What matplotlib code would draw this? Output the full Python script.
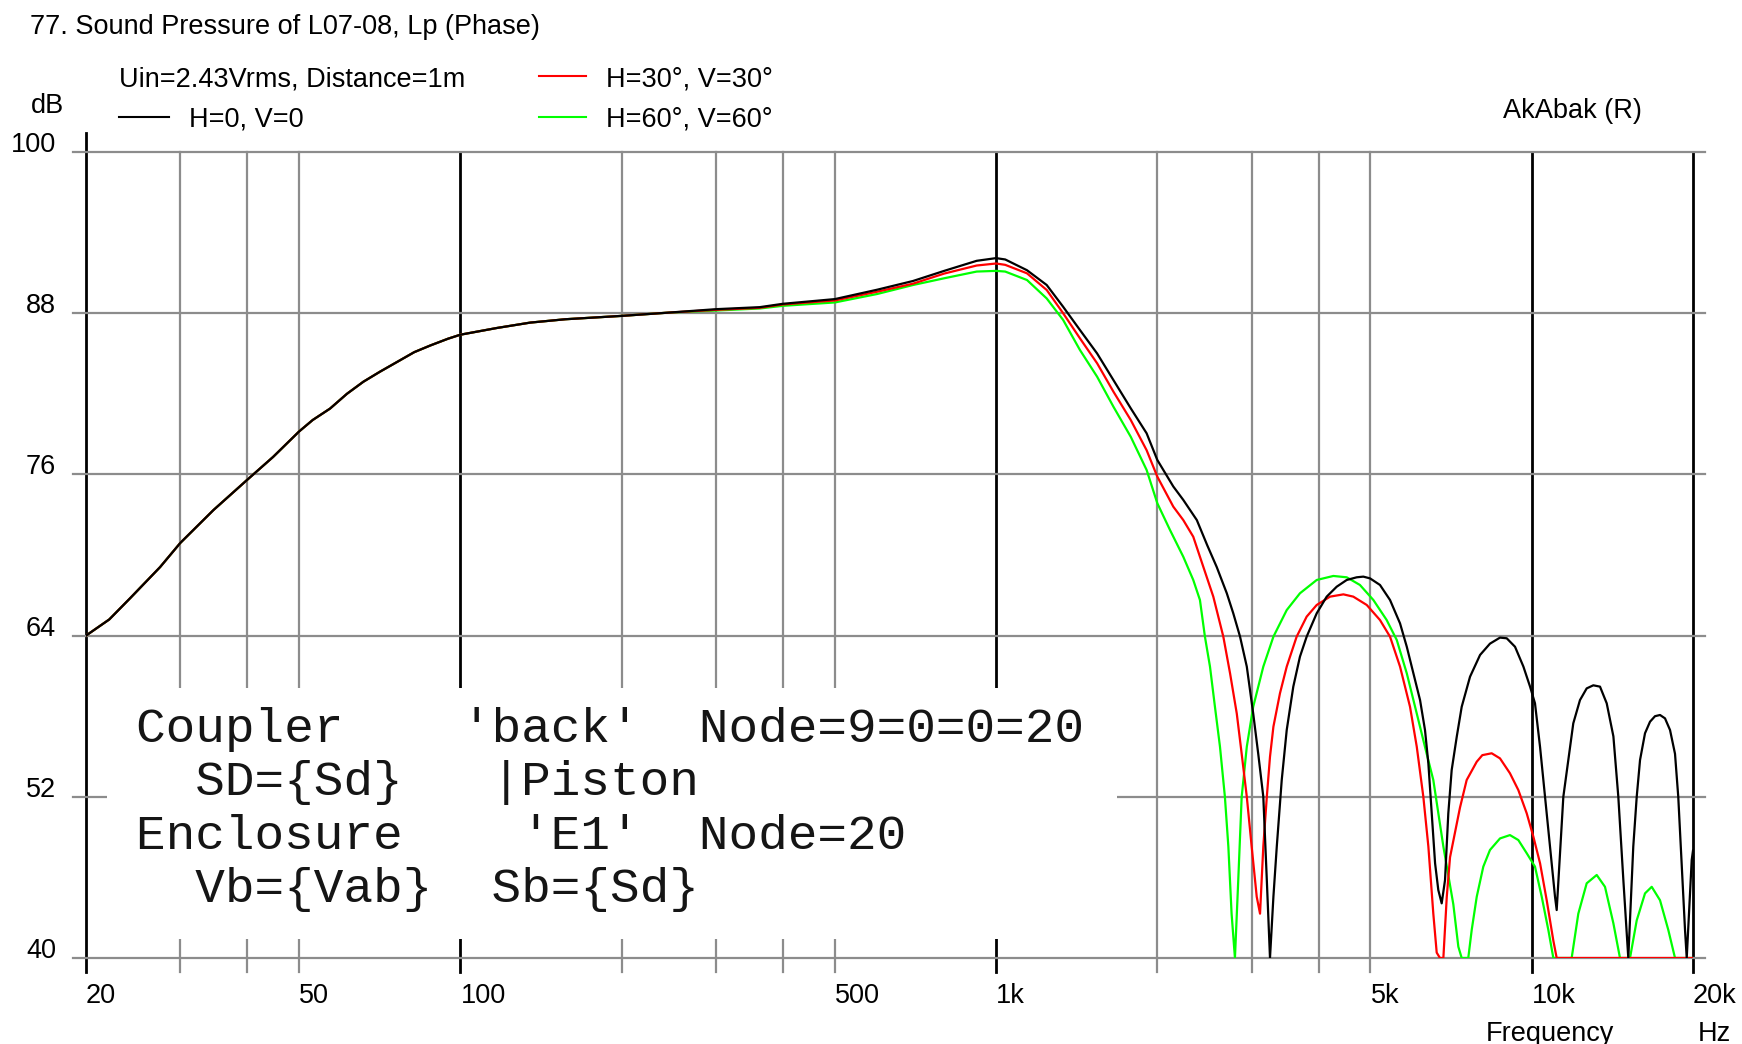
import matplotlib
matplotlib.use("Agg")
import matplotlib.pyplot as plt
from matplotlib.lines import Line2D
from matplotlib.patches import Rectangle

# ---------------- data ----------------
# low-frequency part, identical for all three directions
low_freq = [20, 22.1, 24.2, 27.5, 30, 34.6, 40, 44.7, 50, 53, 57.1, 61.4, 65.9, 70.8, 76.4, 82,
            87.9, 94.8, 100, 117, 135, 157, 200, 246]
low_spl = [64.0, 65.2, 66.8, 69.1, 70.9, 73.35, 75.6, 77.3, 79.2, 80.05, 80.9, 82.0, 82.9, 83.65,
           84.4, 85.1, 85.6, 86.1, 86.4, 86.9, 87.3, 87.55, 87.8, 88.05]

# (frequency Hz, dB) above 250 Hz
h0_points = [(300, 88.3), (362, 88.45), (400, 88.7), (500, 89.05), (600, 89.75), (700, 90.4),
             (800, 91.15), (920, 91.9), (1000, 92.1), (1040, 92.0), (1142, 91.2), (1243, 90.1),
             (1334, 88.48), (1434, 86.75), (1544, 85.0), (1656, 83.03), (1784, 80.92),
             (1910, 79.06), (2000, 77.07), (2142, 75.1), (2236, 74.1), (2370, 72.6), (2480, 70.7),
             (2582, 69.1), (2696, 67.15), (2772, 65.66), (2854, 63.92), (2938, 61.69), (3020, 58.2),
             (3086, 55.2), (3154, 52.0), (3202, 45.8), (3246, 40.0), (3294, 44.56), (3342, 48.29),
             (3414, 53.25), (3488, 56.97), (3588, 60.2), (3692, 62.43), (3800, 63.92), (3968, 65.66),
             (4142, 66.9), (4324, 67.64), (4514, 68.14), (4712, 68.34), (4848, 68.39), (4990, 68.26),
             (5208, 67.77), (5438, 66.65), (5677, 64.91), (5844, 63.17), (6012, 61.19), (6187, 59.2),
             (6320, 56.97), (6412, 54.49), (6506, 50.77), (6600, 47.05), (6692, 45.06), (6790, 44.07),
             (6888, 45.8), (6986, 50.77), (7088, 53.99), (7244, 56.47), (7400, 58.7), (7670, 60.94),
             (8008, 62.56), (8356, 63.4), (8724, 63.85), (8980, 63.8), (9306, 63.17), (9646, 61.7),
             (9928, 60.2), (10140, 58.96), (10364, 55.7), (10588, 52.0), (10816, 48.3),
             (11052, 44.56), (11132, 43.57), (11292, 47.8), (11454, 52.0), (11955, 57.47),
             (12304, 59.2), (12664, 60.07), (13030, 60.3), (13410, 60.2), (13802, 58.96),
             (14204, 56.5), (14508, 52.0), (14826, 45.8), (15144, 40.0), (15472, 48.3),
             (15702, 52.0), (15928, 54.74), (16272, 56.73), (16626, 57.59), (16986, 58.0),
             (17356, 58.09), (17732, 57.84), (18120, 56.97), (18512, 55.2), (18772, 52.0),
             (19048, 47.05), (19326, 42.08), (19468, 40.0), (19658, 43.3), (19890, 47.3),
             (20000, 48.0)]

h30_points = [(300, 88.25), (362, 88.4), (400, 88.65), (500, 88.95), (600, 89.6), (700, 90.2),
              (800, 90.95), (920, 91.55), (1000, 91.7), (1040, 91.6), (1142, 90.97), (1243, 89.73),
              (1334, 88.0), (1434, 86.13), (1544, 84.27), (1656, 82.16), (1784, 80.05), (1910, 77.8),
              (2000, 75.83), (2142, 73.6), (2236, 72.6), (2334, 71.36), (2402, 69.87), (2544, 66.9),
              (2656, 63.92), (2734, 61.19), (2814, 58.2), (2874, 55.2), (2938, 52.0), (3000, 48.3),
              (3066, 44.56), (3110, 43.3), (3154, 48.3), (3202, 52.0), (3246, 54.98), (3294, 57.22),
              (3388, 59.7), (3488, 61.69), (3640, 63.92), (3800, 65.41), (3968, 66.28), (4202, 66.9),
              (4450, 67.07), (4644, 66.9), (4920, 66.28), (5208, 65.16), (5438, 63.92), (5677, 61.69),
              (5926, 58.7), (6100, 55.73), (6275, 52.0), (6412, 48.3), (6550, 43.3), (6646, 40.4),
              (6740, 40.0), (6839, 40.0), (6940, 44.56), (7038, 47.5), (7346, 51.2), (7560, 53.25),
              (7894, 54.61), (8086, 55.1), (8418, 55.24), (8724, 54.86), (9106, 53.75), (9440, 52.5),
              (9786, 50.77), (10070, 49.03), (10364, 47.05), (10664, 44.3), (10972, 41.3),
              (11132, 40.0), (20000, 40.0)]

h60_points = [(300, 88.2), (362, 88.35), (400, 88.55), (500, 88.8), (600, 89.43), (700, 90.1),
              (800, 90.6), (920, 91.1), (1000, 91.15), (1040, 91.1), (1142, 90.47), (1243, 89.1),
              (1334, 87.5), (1434, 85.26), (1544, 83.27), (1656, 81.04), (1784, 78.8), (1910, 76.33),
              (2000, 73.85), (2112, 71.86), (2236, 69.87), (2334, 68.14), (2402, 66.65), (2454, 63.92),
              (2508, 61.69), (2562, 58.7), (2618, 55.73), (2674, 52.0), (2714, 48.3), (2752, 43.3),
              (2792, 40.0), (2832, 45.8), (2874, 52.0), (2938, 55.73), (3020, 58.7), (3154, 61.69),
              (3294, 63.92), (3488, 65.9), (3692, 67.15), (3968, 68.14), (4262, 68.44), (4514, 68.34),
              (4778, 67.77), (5062, 66.65), (5360, 65.16), (5598, 63.67), (5844, 61.19), (6100, 58.2),
              (6366, 55.2), (6550, 53.25), (6839, 48.3), (7138, 44.0), (7294, 40.84), (7400, 40.0),
              (7612, 40.0), (7726, 42.1), (7894, 44.56), (8120, 46.8), (8356, 48.04), (8724, 48.9),
              (9106, 49.15), (9440, 48.78), (9786, 47.8), (10140, 46.8), (10438, 44.56),
              (10740, 42.08), (10972, 40.0), (11872, 40.0), (12216, 43.3), (12664, 45.56),
              (13222, 46.18), (13700, 45.3), (14204, 42.58), (14612, 40.0), (15256, 40.0),
              (15702, 42.8), (16272, 44.81), (16748, 45.3), (17356, 44.3), (17988, 42.08),
              (18512, 40.0), (20000, 40.0)]

series_labels = ["H=0, V=0", "H=30°, V=30°", "H=60°, V=60°"]
series_colors = ["#000000", "#ff0000", "#00ff00"]
y_ticks = [40, 52, 64, 76, 88, 100]
x_ticks = [20, 50, 100, 500, 1000, 5000, 10000, 20000]
x_tick_labels = ["20", "50", "100", "500", "1k", "5k", "10k", "20k"]
grid_freqs = [20, 30, 40, 50, 100, 200, 300, 400, 500, 1000, 2000, 3000, 4000, 5000, 10000, 20000]
major_freqs = [20, 100, 1000, 10000, 20000]
box_lines = ["Coupler    'back'  Node=9=0=0=20",
             "  SD={Sd}   |Piston",
             "Enclosure    'E1'  Node=20",
             "  Vb={Vab}  Sb={Sd}"]


def build(points):
    fr = list(low_freq) + [p[0] for p in points]
    sp = list(low_spl) + [p[1] for p in points]
    return fr, sp


series = [build(h0_points), build(h30_points), build(h60_points)]

# ---------------- figure ----------------
W, H, DPI = 1742, 1044, 100
fig = plt.figure(figsize=(W / DPI, H / DPI), dpi=DPI)
fig.patch.set_facecolor("white")


def fx(x):
    return x / W


def fy(y):
    return 1 - y / H


AX_L, AX_R, AX_T, AX_B = 86, 1693, 152, 958
ax = fig.add_axes([fx(AX_L), fy(AX_B), (AX_R - AX_L) / W, (AX_B - AX_T) / H])
ax.set_xscale("log")
ax.set_xlim(20, 20000)
ax.set_ylim(40, 100)
for s in ax.spines.values():
    s.set_visible(False)
ax.minorticks_off()

GREY = "#8c8c8c"
axw, axh = AX_R - AX_L, AX_B - AX_T
for f in grid_freqs:
    major = f in major_freqs
    top = 1 + 19 / axh if f == 20 else 1.0
    ax.axvline(f, ymin=-14 / axh, ymax=top, color="black" if major else GREY,
               lw=2.0 if major else 1.6, clip_on=False, zorder=1)
for v in y_ticks:
    ax.axhline(v, xmin=-13 / axw, xmax=1 + 12 / axw, color=GREY, lw=1.6,
               clip_on=False, zorder=1)

# white box behind the netlist text
ax.add_patch(Rectangle(((107 - AX_L) / axw, (AX_B - 939) / axh),
                       (1117 - 107) / axw, (939 - 688) / axh,
                       transform=ax.transAxes, facecolor="white", edgecolor="none",
                       zorder=2))

zs = [5, 4, 3]
for (fr, sp), c, z in zip(series, series_colors, zs):
    ax.plot(fr, sp, color=c, lw=1.6, zorder=z)

UI = "Liberation Sans"
FS = 19.5
ax.set_xticks(x_ticks, x_tick_labels)
ax.set_yticks(y_ticks, [str(v) for v in y_ticks])
ax.tick_params(axis="x", length=0, pad=18, labelsize=FS)
ax.tick_params(axis="y", length=0, pad=21.5, labelsize=FS)
for lab in ax.get_xticklabels():
    lab.set_horizontalalignment("left")
    lab.set_fontfamily(UI)
for lab in ax.get_yticklabels():
    lab.set_verticalalignment("baseline")
    lab.set_fontfamily(UI)


def ftext(x, y, s, **kw):
    kw.setdefault("fontfamily", UI)
    kw.setdefault("fontsize", FS)
    kw.setdefault("va", "baseline")
    kw.setdefault("ha", "left")
    fig.text(fx(x), fy(y), s, color=kw.pop("color", "black"), **kw)


ftext(30, 34, "77. Sound Pressure of L07-08, Lp (Phase)")
ftext(119, 86, "Uin=2.43Vrms, Distance=1m")
ftext(31, 113, "dB")
ftext(1503, 118, "AkAbak (R)")
ftext(1486, 1041, "Frequency")
ftext(1698, 1041, "Hz")

# legend keys
leg_pos = [(119, 169, 117, 189, 127), (539, 586, 75.5, 606, 86), (539, 586, 117, 606, 127)]
for (x0, x1, ly, tx, tb), c, lab in zip(leg_pos, series_colors, series_labels):
    fig.add_artist(Line2D([fx(x0), fx(x1)], [fy(ly), fy(ly)], color=c, lw=1.5))
    ftext(tx, tb, lab)

# netlist text
for i, line in enumerate(box_lines):
    fig.text(fx(135.5), fy(742 + i * 53.3), line, fontfamily="Liberation Mono",
             fontsize=35.6, va="baseline", ha="left", color="#151515")

fig.savefig("out.png", dpi=DPI, facecolor="white")
